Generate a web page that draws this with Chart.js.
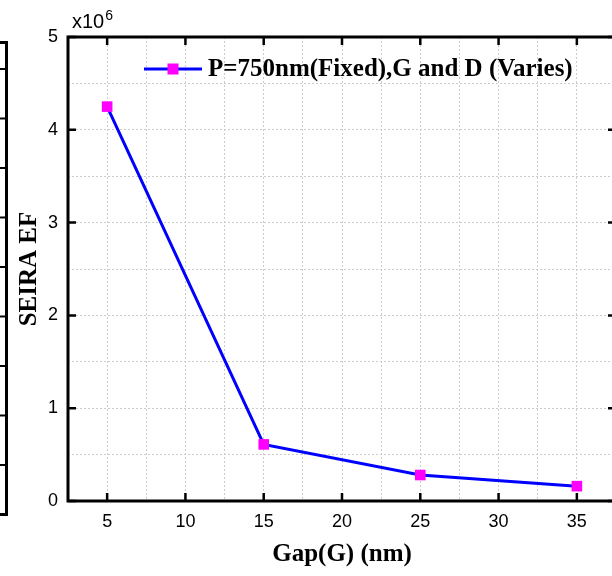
<!DOCTYPE html>
<html>
<head>
<meta charset="utf-8">
<script src="https://cdn.jsdelivr.net/npm/chart.js@4/dist/chart.umd.min.js"></script>
<style>
  html, body { margin: 0; padding: 0; background: #fff; overflow: hidden; }
  #wrap { position: relative; width: 612px; height: 576px; overflow: hidden; }
  #chart { position: absolute; left: 0; top: 0; }
  /* edge of the neighbouring panel, cut off at the left */
  #prev {
    position: absolute; left: -20px; top: 41px; width: 28px; height: 475px;
    border: 3px solid #000; box-sizing: border-box;
    background-image: linear-gradient(#000 0 2px, transparent 2px);
    background-size: 7px 49.5px; background-repeat: repeat-y;
    background-position: right 0 top 24px;
  }
</style>
</head>
<body>
<div id="wrap">
  <div id="prev"></div>
  <canvas id="chart" width="640" height="576" style="width:640px;height:576px"></canvas>
</div>
<script>
// --- data ---
const gapNm = [5, 15, 25, 35];
const seiraEF = [4250000, 610000, 280000, 160000];
const xMajorTicks = [5, 10, 15, 20, 25, 30, 35];
const yMajorTicks = [0, 1, 2, 3, 4, 5]; // x10^6
const seriesLabel = 'P=750nm(Fixed),G and D (Varies)';

const BLUE = '#0000ff';
const PINK = '#ff00ff';
const SERIF = '"Liberation Serif", "Times New Roman", serif';
const SANS = '"Liberation Sans", Arial, sans-serif';

// --- box, inside ticks, legend and the x10^6 factor ---
const frame = {
  id: 'frame',
  afterDraw(chart) {
    const { ctx, chartArea: a, scales: { x, y } } = chart;
    ctx.save();
    ctx.strokeStyle = '#000';
    ctx.lineWidth = 3;
    ctx.strokeRect(a.left, a.top, a.right - a.left, a.bottom - a.top);

    ctx.lineWidth = 2.5;
    ctx.beginPath();
    xMajorTicks.forEach(v => {
      const px = x.getPixelForValue(v);
      ctx.moveTo(px, a.bottom); ctx.lineTo(px, a.bottom - 8);
      ctx.moveTo(px, a.top); ctx.lineTo(px, a.top + 8);
    });
    yMajorTicks.forEach(v => {
      const py = y.getPixelForValue(v * 1e6);
      ctx.moveTo(a.left, py); ctx.lineTo(a.left + 8, py);
      ctx.moveTo(a.right, py); ctx.lineTo(a.right - 8, py);
    });
    ctx.stroke();

    // legend
    const ly = 69, lx = 144;
    ctx.strokeStyle = BLUE;
    ctx.lineWidth = 3;
    ctx.beginPath();
    ctx.moveTo(lx, ly); ctx.lineTo(lx + 58, ly);
    ctx.stroke();
    ctx.fillStyle = PINK;
    ctx.fillRect(lx + 29 - 5.5, ly - 5.5, 11, 11);
    ctx.fillStyle = '#000';
    ctx.font = 'bold 25px ' + SERIF;
    ctx.textBaseline = 'middle';
    ctx.textAlign = 'left';
    ctx.fillText(chart.data.datasets[0].label, lx + 64, ly + 1);

    // x10^6
    ctx.textBaseline = 'alphabetic';
    ctx.font = '20px ' + SANS;
    ctx.fillText('x10', 72, 28);
    const w = ctx.measureText('x10').width;
    ctx.font = '14px ' + SANS;
    ctx.fillText('6', 72 + w + 1, 20);
    ctx.restore();
  }
};

const gridOpts = { color: '#cccccc', lineWidth: 1, drawTicks: false };

new Chart(document.getElementById('chart'), {
  type: 'line',
  data: {
    datasets: [{
      label: seriesLabel,
      data: gapNm.map((g, i) => ({ x: g, y: seiraEF[i] })),
      borderColor: BLUE,
      borderWidth: 3,
      backgroundColor: PINK,
      pointBackgroundColor: PINK,
      pointBorderColor: PINK,
      pointStyle: 'rect',
      pointRadius: 7.5,
      pointBorderWidth: 0,
      tension: 0
    }]
  },
  options: {
    responsive: false,
    animation: false,
    layout: { padding: { top: 37, right: 24, left: 0, bottom: 0 } },
    plugins: { legend: { display: false }, tooltip: { enabled: false } },
    scales: {
      x: {
        type: 'linear', min: 2.5, max: 37.5,
        grid: gridOpts,
        border: { display: false, dash: [2, 2] },
        ticks: {
          stepSize: 2.5, padding: 10, color: '#000',
          font: { family: SANS, size: 18 },
          callback: v => (v % 5 === 0 ? v : '')
        },
        title: {
          display: true, text: 'Gap(G) (nm)', color: '#000',
          font: { family: SERIF, size: 25, weight: 'bold' },
          padding: 6
        },
        afterFit: s => { s.height = 75; }
      },
      y: {
        min: 0, max: 5000000,
        grid: gridOpts,
        border: { display: false, dash: [2, 2] },
        ticks: {
          stepSize: 500000, padding: 10, color: '#000',
          font: { family: SANS, size: 18 },
          callback: v => (v % 1000000 === 0 ? v / 1000000 : '')
        },
        title: {
          display: true, text: 'SEIRA EF', color: '#000',
          font: { family: SERIF, size: 25, weight: 'bold' },
          padding: 15
        },
        afterFit: s => { s.width = 68; }
      }
    }
  },
  plugins: [frame]
});
</script>
</body>
</html>
